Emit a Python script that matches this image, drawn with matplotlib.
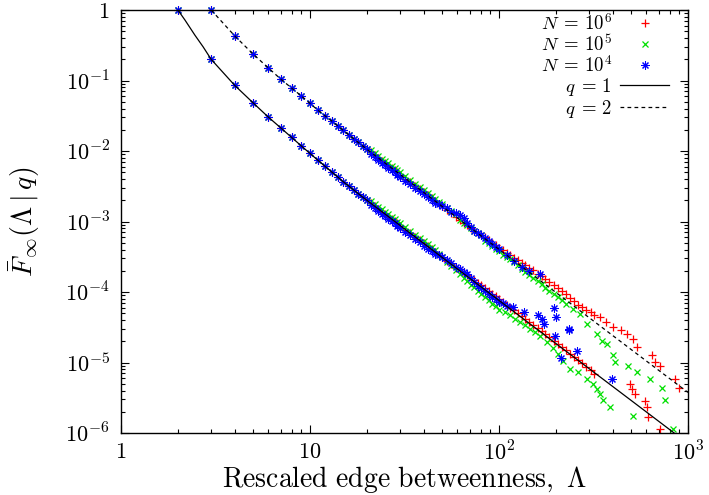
import matplotlib
matplotlib.use("Agg")
import matplotlib.pyplot as plt
from matplotlib.ticker import FixedLocator, NullFormatter

plt.rcParams["mathtext.fontset"] = "cm"
plt.rcParams["font.family"] = "serif"
plt.rcParams["font.serif"] = ["DejaVu Serif"]

# ---------------- data ----------------
# small-Lambda points (identical for every system size)
head_lam_q1 = [2, 3, 4, 5, 6, 7, 8, 9, 10, 11, 12, 13, 14, 15, 16, 17, 18, 19, 20]
head_F_q1 = [1.0, 0.1995, 0.0851, 0.0482, 0.0305, 0.0213, 0.01556, 0.0118, 0.00923,
             0.00741, 0.00608, 0.00507, 0.00429, 0.00366, 0.00320, 0.00281, 0.00249,
             0.00222, 0.00200]
head_lam_q2 = [3, 4, 5, 6, 7, 8, 9, 10, 11, 12, 13, 14, 15, 16, 17, 18, 19, 20]
head_F_q2 = [1.0, 0.428, 0.237, 0.152, 0.1047, 0.078, 0.0603, 0.0473, 0.0380, 0.0316,
             0.0268, 0.0228, 0.0196, 0.01706, 0.01496, 0.01324, 0.0118, 0.01057]

# intermediate range, common abscissae
band_lam = [21, 22, 23, 24, 25, 26, 27, 28, 29, 30, 32, 34, 36, 38, 40, 42, 44, 46, 48, 50,
            53, 56, 59, 62, 65, 68, 71, 74, 77, 80, 84, 88, 92, 96, 100]

n6_q1_band = [1.81e-3, 1.64e-3, 1.50e-3, 1.38e-3, 1.27e-3, 1.17e-3, 1.08e-3, 1.01e-3, 9.38e-4,
              8.75e-4, 7.69e-4, 6.79e-4, 6.05e-4, 5.42e-4, 4.89e-4, 4.43e-4, 4.03e-4, 3.67e-4,
              3.37e-4, 3.10e-4, 2.76e-4, 2.47e-4, 2.22e-4, 2.10e-4, 1.91e-4, 1.74e-4, 1.60e-4,
              1.47e-4, 1.35e-4, 1.25e-4, 1.14e-4, 1.03e-4, 9.42e-5, 8.65e-5, 7.96e-5]
n5_q1_band = [1.94e-3, 1.76e-3, 1.61e-3, 1.48e-3, 1.36e-3, 1.26e-3, 1.16e-3, 1.08e-3, 1.00e-3,
              9.38e-4, 8.24e-4, 7.28e-4, 6.49e-4, 5.81e-4, 5.24e-4, 4.74e-4, 4.32e-4, 3.94e-4,
              3.45e-4, 3.10e-4, 2.70e-4, 2.36e-4, 2.02e-4, 1.79e-4, 1.59e-4, 1.42e-4, 1.27e-4,
              1.17e-4, 1.05e-4, 9.51e-5, 8.61e-5, 7.66e-5, 6.82e-5, 6.27e-5, 5.64e-5]
n4_q1_band = [1.69e-3, 1.53e-3, 1.40e-3, 1.29e-3, 1.18e-3, 1.09e-3, 1.01e-3, 9.40e-4, 8.75e-4,
              8.17e-4, 7.18e-4, 6.34e-4, 5.65e-4, 5.06e-4, 4.56e-4, 4.13e-4, 3.76e-4, 3.43e-4,
              3.37e-4, 3.18e-4, 2.89e-4, 2.58e-4, 2.27e-4, 2.10e-4, 1.95e-4, 1.78e-4, 1.60e-4,
              1.40e-4, 1.23e-4, 1.14e-4, 1.04e-4, 9.42e-5, 8.59e-5, 7.89e-5, 7.26e-5]

n6_q2_band = [9.57e-3, 8.71e-3, 7.96e-3, 7.29e-3, 6.71e-3, 6.21e-3, 5.74e-3, 5.33e-3, 4.97e-3,
              4.63e-3, 4.07e-3, 3.60e-3, 3.21e-3, 2.87e-3, 2.59e-3, 2.34e-3, 2.13e-3, 1.95e-3,
              1.79e-3, 1.64e-3, 1.46e-3, 1.31e-3, 1.17e-3, 1.06e-3, 9.66e-4, 8.81e-4, 8.07e-4,
              7.43e-4, 6.84e-4, 6.34e-4, 6.01e-4, 5.47e-4, 4.99e-4, 4.58e-4, 4.22e-4]
n5_q2_band = [1.03e-2, 9.33e-3, 8.53e-3, 7.82e-3, 7.19e-3, 6.65e-3, 6.15e-3, 5.71e-3, 5.32e-3,
              4.97e-3, 4.37e-3, 3.85e-3, 3.44e-3, 3.08e-3, 2.77e-3, 2.51e-3, 2.29e-3, 2.08e-3,
              1.91e-3, 1.76e-3, 1.57e-3, 1.40e-3, 1.26e-3, 1.06e-3, 9.66e-4, 8.81e-4, 8.07e-4,
              7.43e-4, 6.84e-4, 6.34e-4, 5.36e-4, 4.88e-4, 4.45e-4, 4.08e-4, 3.76e-4]
n4_q2_band = [8.93e-3, 8.13e-3, 7.43e-3, 6.81e-3, 6.27e-3, 5.79e-3, 5.36e-3, 4.98e-3, 4.63e-3,
              4.33e-3, 3.80e-3, 3.36e-3, 2.99e-3, 2.68e-3, 2.42e-3, 2.19e-3, 1.99e-3, 1.82e-3,
              1.79e-3, 1.68e-3, 1.53e-3, 1.37e-3, 1.32e-3, 1.25e-3, 1.11e-3, 9.66e-4, 8.45e-4,
              7.43e-4, 6.84e-4, 6.34e-4, 5.74e-4, 5.22e-4, 4.76e-4, 4.38e-4, 4.03e-4]

# large-Lambda points
n6_q1_tail_lam = [105, 110, 115, 120, 126, 132, 138, 145, 152, 160, 168, 176, 185, 195, 205,
                  215, 226, 238, 250, 263, 276, 290, 305, 320, 493, 504, 525, 592, 604, 617, 711]
n6_q1_tail_F = [7.21e-5, 6.56e-5, 6.00e-5, 5.50e-5, 4.98e-5, 4.53e-5, 4.14e-5, 3.74e-5, 3.40e-5,
                3.07e-5, 2.78e-5, 2.53e-5, 2.29e-5, 2.05e-5, 1.85e-5, 1.64e-5, 1.49e-5, 1.34e-5,
                1.21e-5, 1.09e-5, 9.91e-6, 8.75e-6, 7.73e-6, 6.85e-6, 4.98e-6, 4.23e-6, 3.59e-6,
                2.88e-6, 2.37e-6, 1.71e-6, 1.14e-6]
n5_q1_tail_lam = [107, 114, 121, 129, 137, 146, 155, 165, 179, 194, 206, 219, 238, 263, 291,
                  316, 329, 342, 356, 387, 514, 836]
n5_q1_tail_F = [5.2e-5, 4.7e-5, 4.2e-5, 3.8e-5, 3.4e-5, 3.0e-5, 2.7e-5, 2.35e-5, 1.95e-5,
                1.6e-5, 1.33e-5, 1.05e-5, 8.13e-6, 7.28e-6, 5.86e-6, 4.98e-6, 4.23e-6, 3.59e-6,
                2.95e-6, 2.32e-6, 1.77e-6, 1.14e-6]
n4_q1_tail_lam = [105, 110, 119, 136, 160, 168, 172, 198, 213, 235, 258]
n4_q1_tail_F = [6.9e-5, 6.4e-5, 6.11e-5, 5.18e-5, 4.76e-5, 4.18e-5, 3.55e-5, 2.34e-5, 1.17e-5,
                2.91e-5, 1.45e-5]

n6_q2_tail_lam = [105, 110, 115, 120, 126, 132, 138, 145, 152, 160, 168, 176, 185, 195, 205,
                  215, 226, 238, 250, 263, 276, 290, 305, 320, 342, 370, 403, 440, 474, 514,
                  535, 643, 669, 711, 853, 899]
n6_q2_tail_F = [3.91e-4, 3.56e-4, 3.33e-4, 3.05e-4, 2.82e-4, 2.57e-4, 2.40e-4, 2.17e-4, 2.02e-4,
                1.82e-4, 1.69e-4, 1.54e-4, 1.39e-4, 1.26e-4, 1.14e-4, 1.02e-4, 9.25e-5, 8.22e-5,
                7.36e-5, 6.64e-5, 6.17e-5, 5.57e-5, 5.15e-5, 4.79e-5, 4.40e-5, 3.70e-5, 3.17e-5,
                2.85e-5, 2.56e-5, 2.17e-5, 1.65e-5, 1.26e-5, 1.01e-5, 9.06e-6, 5.86e-6, 4.31e-6]
n5_q2_tail_lam = [105, 110, 115, 120, 126, 132, 138, 145, 152, 160, 168, 176, 185, 195, 205,
                  215, 226, 245, 268, 291, 329, 349, 371, 403, 411, 483, 535, 629, 726, 756]
n5_q2_tail_F = [3.40e-4, 3.10e-4, 2.90e-4, 2.65e-4, 2.40e-4, 2.14e-4, 1.95e-4, 1.77e-4, 1.57e-4,
                1.42e-4, 1.28e-4, 1.14e-4, 1.03e-4, 9.25e-5, 8.36e-5, 7.59e-5, 6.85e-5, 5.75e-5,
                4.92e-5, 3.55e-5, 2.56e-5, 2.05e-5, 1.84e-5, 1.26e-5, 1.01e-5, 8.86e-6, 7.28e-6,
                5.86e-6, 4.31e-6, 2.95e-6]
n4_q2_tail_lam = [110, 120, 132, 145, 165, 196, 200, 235, 398]
n4_q2_tail_F = [3.32e-4, 2.78e-4, 2.29e-4, 2.0e-4, 1.82e-4, 5.91e-5, 4.40e-5, 3.01e-5, 5.86e-6]

# analytic curves (N -> infinity)
line_lam_q1 = [2, 2.18, 2.46, 2.72, 3, 4, 5, 6, 7, 8, 9, 10, 11, 12, 13, 14, 15, 16, 17, 18,
               19, 20, 30, 50, 100, 200, 500, 1000]
line_F_q1 = [1.0, 0.72, 0.44, 0.30, 0.1995, 0.0851, 0.0482, 0.0305, 0.0213, 0.01556, 0.0118,
             0.00923, 0.00741, 0.00608, 0.00507, 0.00429, 0.00366, 0.00320, 0.00281, 0.00249,
             0.00222, 0.00200, 8.76e-4, 3.10e-4, 7.60e-5, 1.86e-5, 2.90e-6, 7.10e-7]
line_lam_q2 = [3, 4, 5, 6, 7, 8, 9, 10, 11, 12, 13, 14, 15, 16, 17, 18, 19, 20, 30, 50, 100,
               200, 500, 1000]
line_F_q2 = [1.0, 0.428, 0.237, 0.152, 0.1047, 0.078, 0.0603, 0.0473, 0.0380, 0.0316, 0.0268,
             0.0228, 0.0196, 0.01706, 0.01496, 0.01324, 0.0118, 0.01057, 4.64e-3, 1.64e-3,
             4.03e-4, 9.86e-5, 1.53e-5, 3.76e-6]

x_ticks = [1, 10, 100, 1000]
x_tick_labels = ["$1$", "$10$", "$10^2$", "$10^3$"]
y_ticks = [1e-6, 1e-5, 1e-4, 1e-3, 1e-2, 1e-1, 1]
y_tick_labels = ["$10^{-6}$", "$10^{-5}$", "$10^{-4}$", "$10^{-3}$", "$10^{-2}$", "$10^{-1}$", "$1$"]

series = [
    (r"$N\;=\,10^6$", "#ff0000", "+", 5.2, 0.9, n6_q1_band, n6_q1_tail_lam, n6_q1_tail_F,
     n6_q2_band, n6_q2_tail_lam, n6_q2_tail_F),
    (r"$N\;=\,10^5$", "#00e000", "x", 4.4, 0.9, n5_q1_band, n5_q1_tail_lam, n5_q1_tail_F,
     n5_q2_band, n5_q2_tail_lam, n5_q2_tail_F),
    (r"$N\;=\,10^4$", "#0000ff", (8, 2, 0), 5.8, 0.75, n4_q1_band, n4_q1_tail_lam, n4_q1_tail_F,
     n4_q2_band, n4_q2_tail_lam, n4_q2_tail_F),
]

# ---------------- figure ----------------
W, H = 709, 495
fig = plt.figure(figsize=(W / 100, H / 100), dpi=100)
ax = fig.add_axes([121 / W, 1 - 433 / H, 567 / W, 423 / H])
ax.set_xscale("log")
ax.set_yscale("log")

handles = []
for label, color, marker, ms, mew, b1, t1l, t1f, b2, t2l, t2f in series:
    lam = head_lam_q1 + band_lam + t1l + head_lam_q2 + band_lam + t2l
    F = head_F_q1 + b1 + t1f + head_F_q2 + b2 + t2f
    h, = ax.plot(lam, F, linestyle="none", marker=marker, color=color,
                 markersize=ms, markeredgewidth=mew, label=label, clip_on=False)
    handles.append(h)

h1, = ax.plot(line_lam_q1, line_F_q1, color="black", lw=0.9, label=r"$q\;=\,1$")
h2, = ax.plot(line_lam_q2, line_F_q2, color="black", lw=0.9,
              linestyle=(0, (3.0, 2.6)), label=r"$q\;=\,2$")
handles += [h1, h2]

ax.set_xlim(1, 1000)
ax.set_ylim(1e-6, 1)

ax.xaxis.set_major_locator(FixedLocator(x_ticks))
ax.set_xticklabels(x_tick_labels)
ax.yaxis.set_major_locator(FixedLocator(y_ticks))
ax.set_yticklabels(y_tick_labels)
minor_x = [m * 10 ** k for k in range(0, 3) for m in range(2, 10)]
minor_y = [m * 10.0 ** k for k in range(-6, 0) for m in range(2, 10)]
ax.xaxis.set_minor_locator(FixedLocator(minor_x))
ax.yaxis.set_minor_locator(FixedLocator(minor_y))
ax.xaxis.set_minor_formatter(NullFormatter())
ax.yaxis.set_minor_formatter(NullFormatter())

ax.tick_params(which="both", direction="in", top=True, right=True, width=0.8, color="black")
ax.tick_params(which="major", length=6.0)
ax.tick_params(which="minor", length=3.0)
ax.tick_params(axis="x", which="major", labelsize=16, pad=6)
ax.tick_params(axis="y", which="major", labelsize=16, pad=8)
for s in ax.spines.values():
    s.set_linewidth(1.0)

ax.set_xlabel(r"$\mathrm{Rescaled\ edge\ betweenness,}\ \Lambda$", fontsize=20)
ax.xaxis.set_label_coords(0.5, -0.074)
ax.set_ylabel(r"$\bar{F}_{\infty}(\Lambda\mid q)$", fontsize=20)
ax.yaxis.set_label_coords(-0.139, 0.5)

leg = ax.legend(handles=handles, loc="upper right", frameon=False, fontsize=13.5,
                markerfirst=False, handlelength=2.6, handletextpad=0.45,
                labelspacing=0.0, borderpad=0, borderaxespad=0,
                bbox_to_anchor=(669 / W, 1 - 13 / H), bbox_transform=fig.transFigure)

fig.savefig("out.png", dpi=100)
